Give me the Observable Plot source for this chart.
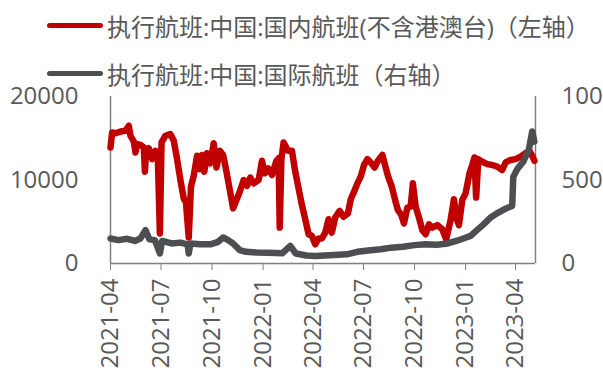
<!DOCTYPE html>
<html>
<head>
<meta charset="utf-8">
<script src="https://cdn.jsdelivr.net/npm/d3@7"></script>
<script src="https://cdn.jsdelivr.net/npm/@observablehq/plot@0.6"></script>
<style>
  html, body { margin: 0; padding: 0; background: #fff; overflow: hidden; width: 603px; height: 372px; }
  #legend { position: relative; height: 80px; font-family: "Open Sans", "Noto Sans CJK SC", sans-serif; font-size: 24px; color: #595959; }
  .item { position: absolute; left: 47px; display: flex; align-items: center; white-space: nowrap; }
  .swatch { width: 56px; height: 5px; border-radius: 3px; margin-right: 4px; }
  #chart svg { display: block; }
</style>
</head>
<body>
<div id="legend"></div>
<div id="chart"></div>
<script>
const seriesNames = ["执行航班:中国:国内航班(不含港澳台)（左轴）", "执行航班:中国:国际航班（右轴）"];
const seriesColors = ["#C00000", "#4D4E52"];

const domesticDates = ["2021-04-01","2021-04-04","2021-04-10","2021-04-19","2021-04-28","2021-05-04","2021-05-07","2021-05-13","2021-05-16","2021-05-19","2021-05-25","2021-05-31","2021-06-02","2021-06-04","2021-06-09","2021-06-15","2021-06-21","2021-06-25","2021-06-29","2021-07-02","2021-07-09","2021-07-18","2021-07-24","2021-07-30","2021-08-05","2021-08-11","2021-08-15","2021-08-20","2021-08-24","2021-08-29","2021-09-04","2021-09-09","2021-09-13","2021-09-17","2021-09-22","2021-09-28","2021-10-04","2021-10-09","2021-10-15","2021-10-21","2021-10-27","2021-11-02","2021-11-08","2021-11-14","2021-11-20","2021-11-27","2021-12-03","2021-12-09","2021-12-15","2021-12-24","2021-12-30","2022-01-04","2022-01-10","2022-01-17","2022-01-25","2022-01-29","2022-01-31","2022-02-03","2022-02-07","2022-02-15","2022-02-22","2022-02-28","2022-03-06","2022-03-12","2022-03-18","2022-03-24","2022-03-30","2022-04-05","2022-04-11","2022-04-17","2022-04-23","2022-04-29","2022-05-05","2022-05-11","2022-05-19","2022-05-26","2022-06-03","2022-06-08","2022-06-14","2022-06-20","2022-06-26","2022-07-02","2022-07-08","2022-07-14","2022-07-21","2022-07-27","2022-08-04","2022-08-08","2022-08-14","2022-08-21","2022-08-27","2022-09-01","2022-09-07","2022-09-12","2022-09-18","2022-09-24","2022-09-28","2022-10-03","2022-10-09","2022-10-15","2022-10-21","2022-10-27","2022-11-02","2022-11-11","2022-11-20","2022-11-27","2022-12-05","2022-12-11","2022-12-15","2022-12-20","2022-12-26","2023-01-01","2023-01-08","2023-01-13","2023-01-17","2023-01-20","2023-01-24","2023-01-31","2023-02-09","2023-02-18","2023-02-27","2023-03-08","2023-03-14","2023-03-23","2023-04-01","2023-04-10","2023-04-19","2023-04-26","2023-05-01","2023-05-05"];
const domesticValues = [13900,15700,15600,15800,15900,16500,15300,14600,13300,14300,14200,13900,11000,13200,13800,12500,13500,13300,3600,14500,15300,15500,14700,12500,10000,7800,7300,3100,9200,10500,12900,11300,13000,11000,13200,12000,14400,11500,13500,13000,11000,8800,6600,7600,8600,10000,9300,10300,9600,10000,12300,10800,11400,10600,12300,12600,4300,12500,14500,13500,13500,11000,9000,7000,5300,3500,3300,2300,3000,3000,3700,5300,3700,5500,6300,5600,6000,7700,8600,9600,10400,11800,12500,12100,11500,12300,13000,12000,10500,9200,7600,6400,5800,4800,6700,6800,9600,6800,5500,4000,3500,4700,4300,4600,4100,2900,5200,7700,5500,4600,7600,8400,10800,11800,12700,7900,12500,12200,11900,11800,11600,11200,12100,12400,12500,12800,13200,13500,12900,12300];

const intlDates = ["2021-04-01","2021-04-15","2021-05-01","2021-05-15","2021-05-25","2021-06-03","2021-06-10","2021-06-20","2021-06-29","2021-07-03","2021-07-20","2021-08-05","2021-08-18","2021-08-20","2021-08-23","2021-09-10","2021-09-28","2021-10-12","2021-10-21","2021-10-30","2021-11-08","2021-11-20","2021-12-01","2021-12-20","2022-01-10","2022-02-05","2022-02-19","2022-03-01","2022-03-20","2022-04-05","2022-05-01","2022-06-01","2022-06-20","2022-07-10","2022-08-01","2022-08-20","2022-09-10","2022-10-01","2022-10-20","2022-11-10","2022-11-30","2022-12-15","2022-12-28","2023-01-10","2023-01-20","2023-02-01","2023-02-15","2023-03-01","2023-03-15","2023-03-26","2023-03-28","2023-04-05","2023-04-15","2023-04-25","2023-05-01","2023-05-05"];
const intlValues = [150,140,148,135,150,200,145,140,60,135,120,125,115,60,120,115,115,130,156,140,120,80,70,66,65,62,105,60,48,45,50,55,70,78,85,95,100,110,115,112,120,135,150,165,195,230,275,305,330,345,520,570,610,680,790,730];

const leftTicks = [0, 10000, 20000];
const rightTicks = [0, 500, 1000];
const xTickDates = ["2021-04-01","2021-07-01","2021-10-01","2022-01-01","2022-04-01","2022-07-01","2022-10-01","2023-01-01","2023-04-01"];
const xDomain = ["2021-04-01", "2023-05-07"];

const parse = d3.utcParse("%Y-%m-%d");
const ratio = leftTicks[leftTicks.length - 1] / rightTicks[rightTicks.length - 1];

const domestic = domesticDates.map((d, i) => ({date: parse(d), value: domesticValues[i]}));
const intl = intlDates.map((d, i) => ({date: parse(d), value: intlValues[i] * ratio}));

// Legend
const legend = document.getElementById("legend");
seriesNames.forEach((name, i) => {
  const item = document.createElement("div");
  item.className = "item";
  item.style.top = (i === 0 ? 8 : 56) + "px";
  const sw = document.createElement("div");
  sw.className = "swatch";
  sw.style.background = seriesColors[i];
  const tx = document.createElement("span");
  tx.textContent = name;
  item.appendChild(sw);
  item.appendChild(tx);
  legend.appendChild(item);
});

const axisColor = "#808080";
const textColor = "#595959";
const font = {fontSize: 24, fill: textColor};

const chart = Plot.plot({
  width: 603,
  height: 292,
  marginTop: 16,
  marginBottom: 109,
  marginLeft: 110,
  marginRight: 68,
  style: {fontFamily: "'Open Sans', 'Noto Sans CJK SC', sans-serif", color: textColor, background: "transparent", overflow: "visible"},
  x: {type: "utc", domain: xDomain.map(parse)},
  y: {domain: [leftTicks[0], leftTicks[leftTicks.length - 1]]},
  marks: [
    Plot.axisY({ticks: leftTicks, tickSize: 0, tickPadding: 32, tickFormat: d => String(d), label: null, ...font}),
    Plot.axisY({anchor: "right", ticks: rightTicks.map(v => v * ratio), tickSize: 0, tickPadding: 26, tickFormat: d => String(d / ratio), label: null, textAnchor: "start", ...font}),
    Plot.axisX({ticks: xTickDates.map(parse), tickFormat: d3.utcFormat("%Y-%m"), tickRotate: -90, tickSize: 7, tickPadding: 8, stroke: axisColor, label: null, ...font}),
    Plot.ruleY([leftTicks[0]], {stroke: axisColor, strokeWidth: 1.5}),
    Plot.ruleX(xDomain.map(parse), {stroke: axisColor, strokeWidth: 1.5}),
    Plot.line(domestic, {x: "date", y: "value", stroke: seriesColors[0], strokeWidth: 6.5, strokeLinejoin: "round", strokeLinecap: "round"}),
    Plot.line(intl, {x: "date", y: "value", stroke: seriesColors[1], strokeWidth: 6.5, strokeLinejoin: "round", strokeLinecap: "round"})
  ]
});
document.getElementById("chart").appendChild(chart);
</script>
</body>
</html>
